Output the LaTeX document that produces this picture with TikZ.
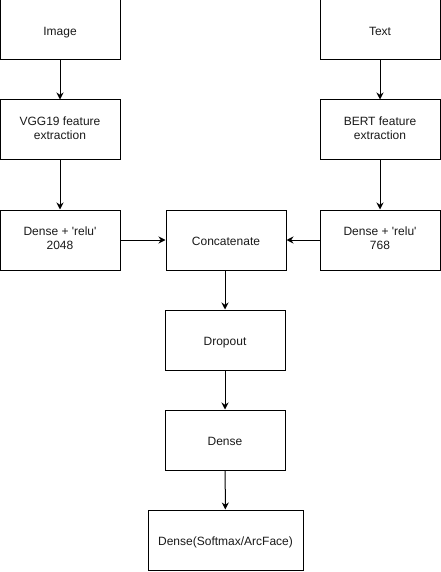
\documentclass[tikz,border=0pt]{standalone}
\usepackage{fontspec}
\setmainfont{Liberation Sans}
\usepackage{xcolor}
\usetikzlibrary{arrows.meta}
\definecolor{border}{HTML}{000000}
\definecolor{text}{HTML}{1A1A1A}
\newcommand{\sq}{\textquotesingle}
\newcommand{\tstrut}{\vrule height 13.4pt depth 2.8pt width 0pt}
\tikzset{
  blk/.style={draw=border, line width=1pt, fill=white, minimum width=120pt,
    minimum height=60pt, align=center, inner sep=2pt, text=text,
    font=\fontsize{12}{14}\selectfont,
    execute at begin node=\tstrut, execute at end node=\tstrut},
  flow/.style={-{Stealth[length=7pt,width=7pt]}, line width=1pt, draw=border}
}
\begin{document}
\begin{tikzpicture}[x=1pt, y=1pt]
  \useasboundingbox (0,0) rectangle (441,-572);
  % two input branches
  \node[blk] (img)  at (60,-30)  {Image};
  \node[blk] (txt)  at (380,-30) {Text};
  \node[blk] (vgg)  at (60,-130) {VGG19 feature\\extraction};
  \node[blk] (bert) at (380,-130) {BERT feature\\extraction};
  \node[blk] (dimg) at (60,-240) {Dense + \sq relu\sq\\2048};
  \node[blk] (dtxt) at (380,-240) {Dense + \sq relu\sq\\768};
  % merged head
  \node[blk] (cat)  at (226,-240) {Concatenate};
  \node[blk] (drop) at (225,-340) {Dropout};
  \node[blk] (dns)  at (225,-440) {Dense};
  \node[blk, minimum width=155pt] (out) at (225.5,-540) {Dense(Softmax/ArcFace)};
  \draw[flow] (img) -- (vgg);
  \draw[flow] (vgg) -- (dimg);
  \draw[flow] (txt) -- (bert);
  \draw[flow] (bert) -- (dtxt);
  \draw[flow] (dimg) -- (cat);
  \draw[flow] (dtxt) -- (cat);
  \draw[flow] (cat.south -| drop.north) -- (drop);
  \draw[flow] (drop) -- (dns);
  \draw[flow] (dns) -- (out);
\end{tikzpicture}
\end{document}
